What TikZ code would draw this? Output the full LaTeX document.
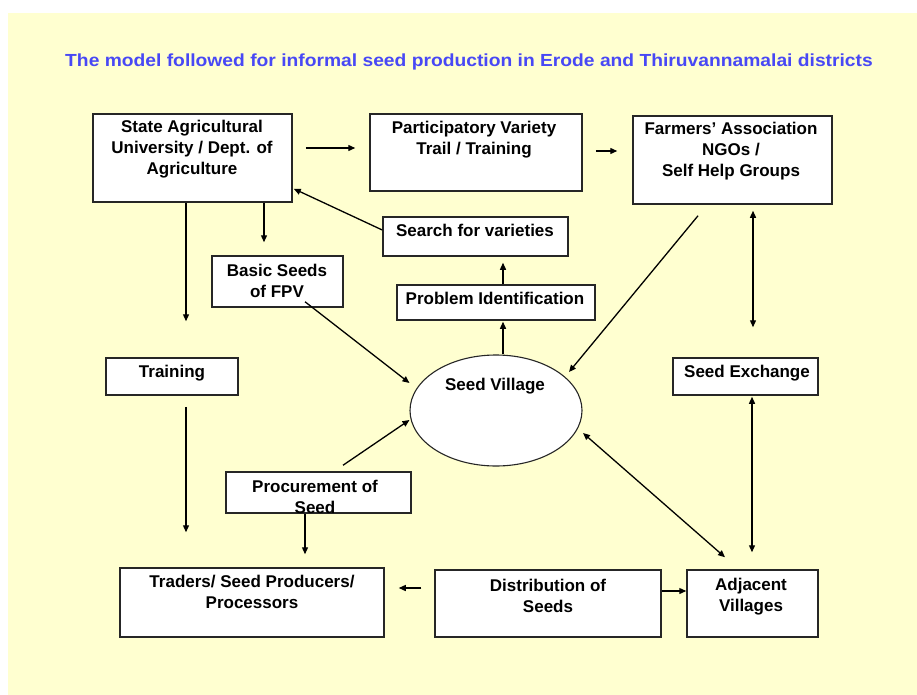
\documentclass[tikz,border=0pt]{standalone}
\usepackage{fontspec}
\setmainfont{Liberation Sans}
\newfontfamily\titlefont[FakeStretch=1.1]{Liberation Sans}
\usetikzlibrary{arrows.meta,calc,shapes.geometric}
\definecolor{bgyellow}{RGB}{255,255,208}
\definecolor{titleblue}{RGB}{72,72,245}
\tikzset{
  boxshape/.style={draw=black!85,line width=1.5pt,fill=white,inner sep=0pt,rectangle},
  txt/.style={anchor=north,align=center,inner sep=0pt,yshift=-2pt,font=\bfseries\fontsize{17}{21}\selectfont},
  arr/.style={line width=1.3pt,-{Triangle[length=7pt,width=6pt]}},
  darr/.style={line width=1.3pt,{Triangle[length=7pt,width=6pt]}-{Triangle[length=7pt,width=6pt]}},
}
\begin{document}
\begin{tikzpicture}[x=1pt,y=-1pt]
\useasboundingbox (0,0) rectangle (917,695);
\fill[white] (0,0) rectangle (917,695);
\fill[bgyellow] (8,13) rectangle (917,695);
\node[font=\titlefont\bfseries\fontsize{17.5}{20}\selectfont,text=titleblue,inner sep=0pt] (title) at (469,62) {The model followed for informal seed production in Erode and Thiruvannamalai districts};
% boxes
\node[boxshape,minimum width=199pt,minimum height=88pt] (sau) at (192.5,158) {};
\node[boxshape,minimum width=212pt,minimum height=77pt] (pvt) at (476,152.5) {};
\node[boxshape,minimum width=199pt,minimum height=88pt] (fa) at (732.5,160) {};
\node[boxshape,minimum width=185pt,minimum height=39pt] (search) at (475.5,236.5) {};
\node[boxshape,minimum width=198pt,minimum height=35pt] (prob) at (496,302.5) {};
\node[boxshape,minimum width=131pt,minimum height=51pt] (basic) at (277.5,281.5) {};
\node[boxshape,minimum width=132pt,minimum height=37pt] (training) at (172,376.5) {};
\node[boxshape,minimum width=145pt,minimum height=37pt] (seedex) at (745.5,376.5) {};
\node[draw=black!85,line width=1.1pt,fill=white,ellipse,inner sep=0pt,minimum width=172pt,minimum height=111pt] (sv) at (496,410.5) {};
\node[boxshape,minimum width=185pt,minimum height=41pt] (proc) at (318.5,492.5) {};
\node[boxshape,minimum width=264pt,minimum height=69pt] (traders) at (252,602.5) {};
\node[boxshape,minimum width=226pt,minimum height=67pt] (dist) at (548,603.5) {};
\node[boxshape,minimum width=131pt,minimum height=67pt] (adj) at (752.5,603.5) {};
% texts
\node[txt] (sauT) at (192,118) {State Agricultural\\University / Dept. of\\Agriculture};
\node[txt] (pvtT) at (474,119) {Participatory Variety\\Trail / Training};
\node[txt] (faT) at (731,120) {Farmers' Association\\NGOs /\\Self Help Groups};
\node[txt] (searchT) at (475,222) {Search for varieties};
\node[txt] (probT) at (495,290) {Problem Identification};
\node[txt] (basicT) at (277,262) {Basic Seeds\\of FPV};
\node[txt] (trainingT) at (172,363) {Training};
\node[txt] (seedexT) at (747,363) {Seed Exchange};
\node[txt] (svT) at (495,376) {Seed Village};
\node[txt] (procT) at (315,478) {Procurement of\\Seed};
\node[txt] (tradersT) at (252,573) {Traders/ Seed Producers/\\Processors};
\node[txt] (distT) at (548,577) {Distribution of\\Seeds};
\node[txt] (adjT) at (751,576) {Adjacent\\Villages};
% connectors
\draw[arr] ($(sau.east)+(13,-10)$) -- ($(pvt.west)+(-14,-4.5)$);
\draw[arr] ($(pvt.east)+(13,-1.5)$) -- ($(fa.west)+(-15,-9)$);
\draw[arr] ($(search.west)+(0,-6.5)$) -- ($(sau.south east)+(1,-14)$);
\draw[arr] ($(prob.north)+(7,0)$) -- ($(search.south)+(27.5,6)$);
\draw[arr] ($(sv.north)+(7,0)$) -- ($(prob.south)+(7,1)$);
\draw[arr] ($(fa.south)+(-34.5,11)$) -- ($(sv.center)+(73,-38.5)$);
\draw[darr] ($(fa.south)+(20.5,6)$) -- ($(seedex.north)+(7.5,-30)$);
\draw[darr] ($(seedex.south)+(6.5,1)$) -- ($(adj.north)+(-0.5,-17)$);
\draw[darr] ($(sv.center)+(87,22.5)$) -- ($(adj.north)+(-27.5,-12)$);
\draw[arr] ($(dist.east)+(0,-12.5)$) -- ($(adj.west)+(0,-12.5)$);
\draw[arr] ($(dist.west)+(-13,-15.5)$) -- ($(traders.east)+(14,-14.5)$);
\draw[arr] ($(proc.south)+(-13.5,0)$) -- ($(traders.north)+(53,-13)$);
\draw[arr] ($(proc.north)+(24.5,-6)$) -- ($(sv.west)+(0,9.5)$);
\draw[arr] ($(training.south)+(14,11)$) -- ($(traders.north)+(-66,-35)$);
\draw[arr] ($(sau.south)+(-6.5,0)$) -- ($(training.north)+(14,-36)$);
\draw[arr] ($(sau.south)+(71.5,0)$) -- ($(basic.north)+(-13.5,-13)$);
\draw[arr] ($(basic.south)+(27.5,-6)$) -- ($(sv.west)+(0,-27.5)$);
\end{tikzpicture}
\end{document}
